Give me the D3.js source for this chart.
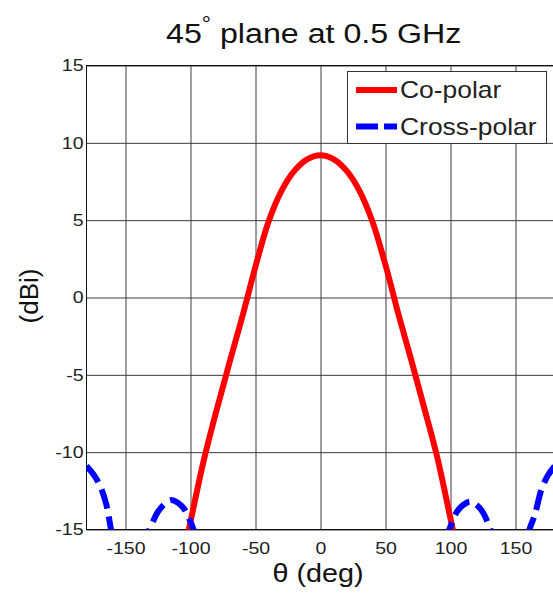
<!DOCTYPE html>
<html>
<head>
<meta charset="utf-8">
<script src="https://cdn.jsdelivr.net/npm/d3@7"></script>
<style>
html,body{margin:0;padding:0;background:#fff;}
svg{display:block;font-family:"Liberation Sans",Arial,sans-serif;}
</style>
</head>
<body>
<svg id="chart" width="553" height="594"></svg>
<script>
// ---- data ----
const coTheta = [-110,-100,-90,-80,-70,-60,-50,-40,-30,-20,-10,0,10,20,30,40,50,60,70,80,90,100,110];
const coGain  = [-18.4,-14.5,-10.6,-7.3,-4.2,-1.2,2.0,4.9,6.9,8.2,8.95,9.2,8.95,8.2,6.9,4.9,2.1,-1.1,-4.1,-7.2,-10.4,-14.3,-18.3];

const crossTheta = [-180,-175,-170,-165,-160,-155,-150,-145,-140,-135,-130,-125,-120,-115,-110,-105,-100,-95,-90,
                    90,95,100,105,110,115,120,125,130,135,140,145,150,155,160,165,170,175,180];
const crossGain  = [-10.9,-11.4,-12.1,-13.3,-15.5,-17.2,-19.0,-19.5,-17.5,-15.7,-14.7,-13.85,-13.35,-13.1,-13.25,-13.65,-14.5,-15.7,-17.5,
                    -17.5,-16.0,-14.8,-13.85,-13.4,-13.2,-13.4,-13.9,-14.85,-16.1,-17.5,-19.0,-19.5,-17.5,-15.2,-14.0,-12.4,-11.5,-10.9];
const crossBreakAfter = 90; // gap (values below axis) between -90 and 90

const xTicks = [-150,-100,-50,0,50,100,150];
const yTicks = [-15,-10,-5,0,5,10,15];
const xDomain = [-180,180];
const yDomain = [-15,15];

const titleMain = "45";
const titleDeg = "°";
const titleRest = " plane at 0.5 GHz";
const xLabel = "θ (deg)";
const yLabel = "(dBi)";
const seriesNames = ["Co-polar","Cross-polar"];

// ---- layout ----
const SX = 1.15; // horizontal text stretch of the original picture
const L = 86.5, R = 554.5, T = 65.5, B = 529.5;
const svg = d3.select("#chart");
svg.append("rect").attr("width",553).attr("height",594).attr("fill","#fff");

const x = d3.scaleLinear().domain(xDomain).range([L,R]);
const y = d3.scaleLinear().domain(yDomain).range([B,T]);

// grid + tick labels via axes
const gx = svg.append("g").attr("transform",`translate(0,${B})`)
  .call(d3.axisBottom(x).tickValues(xTicks).tickSize(-(B-T)).tickPadding(12).tickFormat(d=>String(d)));
const gy = svg.append("g").attr("transform",`translate(${L},0)`)
  .call(d3.axisLeft(y).tickValues(yTicks).tickSize(-(R-L)).tickPadding(3).tickFormat(d=>String(d)));
[gx,gy].forEach(g=>{
  g.select(".domain").remove();
  g.selectAll(".tick line").attr("stroke","#3a3a3a").attr("stroke-width",1);
  g.selectAll(".tick text").attr("fill","#222").attr("font-size",17)
   .attr("font-family","'Liberation Sans',Arial,sans-serif")
   .attr("transform",`scale(${SX},1)`);
});
gy.selectAll(".tick text").attr("x",-3/SX);

// axes box
svg.append("rect").attr("x",L).attr("y",T).attr("width",R-L).attr("height",B-T)
  .attr("fill","none").attr("stroke","#111").attr("stroke-width",1);

// clip
svg.append("clipPath").attr("id","plotclip").append("rect")
  .attr("x",L).attr("y",T).attr("width",R-L).attr("height",B-T);

const plot = svg.append("g").attr("clip-path","url(#plotclip)");

const coData = coTheta.map((t,i)=>({t,v:coGain[i]}));
const crossData = [];
crossTheta.forEach((t,i)=>{
  if(t===crossBreakAfter) crossData.push(null);
  crossData.push({t,v:crossGain[i]});
});

const line = d3.line().defined(d=>d!==null).x(d=>x(d.t)).y(d=>y(d.v)).curve(d3.curveCatmullRom.alpha(0.5));

plot.append("path").datum(coData).attr("d",line)
  .attr("fill","none").attr("stroke","#ff0000").attr("stroke-width",6).attr("stroke-linejoin","round");
plot.append("path").datum(crossData).attr("d",line)
  .attr("fill","none").attr("stroke","#0000ff").attr("stroke-width",6)
  .attr("stroke-dasharray","20,8");

// legend
const lg = svg.append("g");
lg.append("rect").attr("x",347.5).attr("y",71.5).attr("width",199).attr("height",72)
  .attr("fill","#fff").attr("stroke","#333").attr("stroke-width",1);
const legY = [90,126.5];
const legStyle = [{c:"#ff0000",d:null},{c:"#0000ff",d:"22,6"}];
seriesNames.forEach((n,i)=>{
  const l = lg.append("line").attr("x1",356).attr("x2",397).attr("y1",legY[i]).attr("y2",legY[i])
    .attr("stroke",legStyle[i].c).attr("stroke-width",6);
  if(legStyle[i].d) l.attr("stroke-dasharray",legStyle[i].d);
  lg.append("g").attr("transform",`translate(400,${legY[i]+8.3}) scale(${SX},1)`)
    .append("text").attr("font-size",23).attr("fill","#222").text(n);
});

// title
const tt = svg.append("g").attr("transform",`translate(166,43) scale(${SX},1)`)
  .append("text").attr("font-size",28).attr("fill","#111");
tt.append("tspan").text(titleMain);
tt.append("tspan").attr("font-size",20).attr("dy",-12).text(titleDeg);
tt.append("tspan").attr("dy",12).text(titleRest);

// axis labels
svg.append("g").attr("transform",`translate(318,582) scale(${SX},1)`)
  .append("text").attr("text-anchor","middle").attr("font-size",25).attr("fill","#111").text(xLabel);
svg.append("g").attr("transform",`translate(38,296) rotate(-90)`)
  .append("text").attr("text-anchor","middle").attr("font-size",26).attr("fill","#111").text(yLabel);
</script>
</body>
</html>
